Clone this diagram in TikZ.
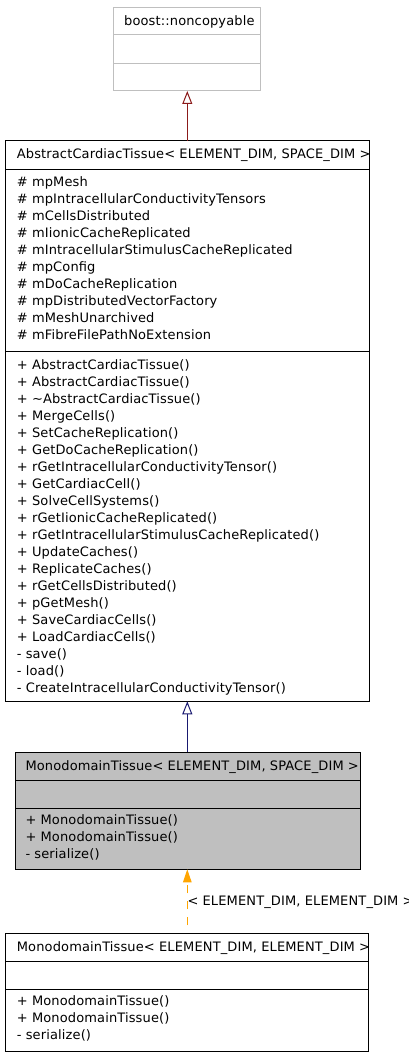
\documentclass[tikz,border=0pt]{standalone}
\usepackage{fontspec}
\setmainfont{DejaVu Sans}[LetterSpace=1]
\usetikzlibrary{arrows.meta}
\definecolor{edgered}{HTML}{8B1A1A}
\definecolor{edgeblue}{HTML}{191970}
\definecolor{edgeorange}{HTML}{FFA500}
\definecolor{boxgray}{HTML}{BFBFBF}
\definecolor{linegray}{HTML}{BFBFBF}
\begin{document}
\begin{tikzpicture}[x=1pt,y=-1pt,
  umlbox/.style={draw=black, line width=1pt, anchor=north west, inner sep=0pt, outer sep=0pt},
  txt/.style={anchor=base west, inner sep=0pt, font=\fontsize{13}{15}\selectfont},
  sep/.style={line width=1pt},
  inherit/.style={line width=1pt, -{Triangle[open, width=10pt, length=13pt]}},
  templ/.style={line width=1.1pt, edgeorange, dash pattern=on 8pt off 8pt, dash phase=8pt, -{Triangle[width=8.5pt, length=13pt]}}]
\useasboundingbox (0,0) rectangle (409,1056);
\clip (0,0) rectangle (409,1056);
% box 1
\node[umlbox, draw=linegray, minimum width=147pt, minimum height=83.7pt] (b1) at (113.3,7.3) {};
\draw[sep, linegray] (b1.west |- 0,35) -- (b1.east |- 0,35);
\draw[sep, linegray] (b1.west |- 0,63.3) -- (b1.east |- 0,63.3);
\node[txt] (t1) at (124,25.3) {boost::noncopyable};
% box 2
\node[umlbox, minimum width=364pt, minimum height=560.5pt] (b2) at (5.3,140.8) {};
\draw[sep] (b2.west |- 0,169.3) -- (b2.east |- 0,169.3);
\draw[sep] (b2.west |- 0,351.7) -- (b2.east |- 0,351.7);
\node[txt] (t2) at (16.7,159) {AbstractCardiacTissue< ELEMENT\_DIM, SPACE\_DIM >};
\foreach \s [count=\i from 0] in {
  \# mpMesh,
  \# mpIntracellularConductivityTensors,
  \# mCellsDistributed,
  \# mIionicCacheReplicated,
  \# mIntracellularStimulusCacheReplicated,
  \# mpConfig,
  \# mDoCacheReplication,
  \# mpDistributedVectorFactory,
  \# mMeshUnarchived,
  \# mFibreFilePathNoExtension}
  \node[txt] (a\i) at (16.7,186.7+17*\i) {\s};
\foreach \s [count=\i from 0] in {
  + AbstractCardiacTissue(),
  + AbstractCardiacTissue(),
  + \textasciitilde AbstractCardiacTissue(),
  + MergeCells(),
  + SetCacheReplication(),
  + GetDoCacheReplication(),
  + rGetIntracellularConductivityTensor(),
  + GetCardiacCell(),
  + SolveCellSystems(),
  + rGetIionicCacheReplicated(),
  + rGetIntracellularStimulusCacheReplicated(),
  + UpdateCaches(),
  + ReplicateCaches(),
  + rGetCellsDistributed(),
  + pGetMesh(),
  + SaveCardiacCells(),
  + LoadCardiacCells(),
  - save(),
  - load(),
  - CreateIntracellularConductivityTensor()}
  \node[txt] (m\i) at (16.7,369+17*\i) {\s};
% box 3
\node[umlbox, fill=boxgray, minimum width=345.4pt, minimum height=117pt] (b3) at (15.3,752.3) {};
\draw[sep] (b3.west |- 0,780.3) -- (b3.east |- 0,780.3);
\draw[sep] (b3.west |- 0,808.3) -- (b3.east |- 0,808.3);
\node[txt] (t3) at (25.3,770.7) {MonodomainTissue< ELEMENT\_DIM, SPACE\_DIM >};
\node[txt] (c1) at (25.3,824.7) {+ MonodomainTissue()};
\node[txt] (c2) at (25.3,841.7) {+ MonodomainTissue()};
\node[txt] (c3) at (25.3,858.7) {- serialize()};
% box 4
\node[umlbox, minimum width=363.4pt, minimum height=118.4pt] (b4) at (5.3,933.3) {};
\draw[sep] (b4.west |- 0,961) -- (b4.east |- 0,961);
\draw[sep] (b4.west |- 0,989.3) -- (b4.east |- 0,989.3);
\node[txt] (t4) at (16.7,951) {MonodomainTissue< ELEMENT\_DIM, ELEMENT\_DIM >};
\node[txt] (d1) at (16.7,1005.7) {+ MonodomainTissue()};
\node[txt] (d2) at (16.7,1022.7) {+ MonodomainTissue()};
\node[txt] (d3) at (16.7,1039.7) {- serialize()};
% edges
\coordinate (e1) at (187.3,0);
\draw[inherit, edgered] (b2.north -| e1) -- (b1.south -| e1);
\draw[inherit, edgeblue] (b3.north -| e1) -- (b2.south -| e1);
\draw[templ] (b4.north -| e1) -- (b3.south -| e1);
\node[txt] (lbl) at (187.3,905) {< ELEMENT\_DIM, ELEMENT\_DIM >};
\end{tikzpicture}
\end{document}
